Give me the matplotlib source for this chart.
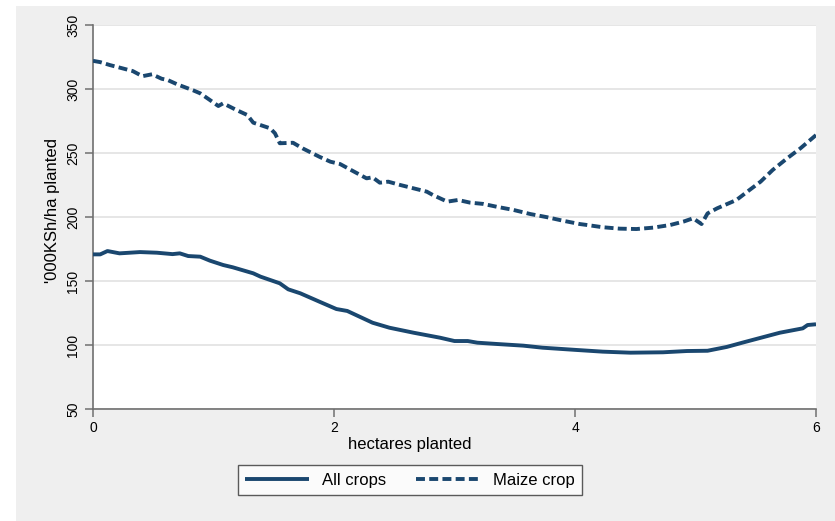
import matplotlib
matplotlib.use('Agg')
from matplotlib import pyplot as plt
from matplotlib.patches import Rectangle

plt.rcParams['font.family'] = ['Liberation Sans', 'DejaVu Sans']

# 数据: 总作物
all_x = [0.0, 0.06, 0.12, 0.22, 0.39, 0.53, 0.66, 0.72, 0.79, 0.89, 0.97, 1.08, 1.16,
         1.33, 1.39, 1.55, 1.62, 1.72, 1.88, 2.02, 2.11, 2.32, 2.46, 2.66, 2.88, 3.0,
         3.11, 3.19, 3.35, 3.57, 3.73, 4.0, 4.23, 4.46, 4.73, 4.93, 5.1, 5.26, 5.4,
         5.7, 5.89, 5.93, 6.0]
all_y = [170.8, 170.8, 173.4, 171.6, 172.6, 172.1, 171.0, 171.6, 169.5, 169.0, 165.9,
         162.5, 160.7, 156.0, 153.4, 148.2, 143.5, 140.4, 133.8, 128.1, 126.6, 117.4,
         113.5, 109.6, 105.7, 103.1, 103.1, 101.8, 100.8, 99.5, 97.9, 96.2, 94.8, 94.0,
         94.3, 95.3, 95.5, 98.5, 102.1, 109.6, 113.0, 115.6, 116.2]

# 数据: 玉米
maize_x = [0.0, 0.06, 0.14, 0.25, 0.33, 0.41, 0.49, 0.57, 0.62, 0.70, 0.83, 0.89, 0.97,
           1.04, 1.08, 1.19, 1.28, 1.33, 1.47, 1.51, 1.55, 1.66, 1.74, 1.88, 1.97, 2.05,
           2.13, 2.27, 2.32, 2.38, 2.45, 2.55, 2.66, 2.77, 2.82, 2.94, 3.03, 3.13, 3.24,
           3.35, 3.49, 3.63, 3.77, 3.90, 4.04, 4.10, 4.23, 4.37, 4.51, 4.65, 4.79, 4.90,
           4.98, 5.05, 5.10, 5.18, 5.34, 5.43, 5.54, 5.64, 5.76, 5.87, 6.0]
maize_y = [322.0, 321.0, 318.7, 316.0, 314.0, 310.0, 311.5, 308.0, 307.0, 303.6, 299.0,
           296.6, 291.4, 286.7, 288.8, 283.6, 279.7, 273.7, 269.3, 265.4, 257.6, 258.0,
           253.6, 247.0, 243.2, 241.4, 237.3, 230.2, 231.0, 226.8, 227.6, 225.0, 222.4,
           219.8, 217.2, 212.0, 213.3, 211.2, 210.2, 208.0, 205.5, 202.3, 199.8, 197.1,
           194.5, 193.75, 192.0, 190.9, 190.6, 191.7, 193.75, 196.4, 199.0, 194.5, 202.8,
           206.8, 213.3, 219.8, 227.6, 236.7, 245.8, 253.6, 264.0]

xticks = [0, 2, 4, 6]
yticks = [50, 100, 150, 200, 250, 300, 350]
labels = ['All crops', 'Maize crop']

navy = '#1a476f'
bg = '#efefef'

fig = plt.figure(figsize=(8.35, 5.21), dpi=100, facecolor='white')
# 灰色背景
fig.patches.append(Rectangle((16/835, 0), 1 - 16/835, 1 - 6/521, transform=fig.transFigure,
                             facecolor=bg, edgecolor='none', zorder=-10))

ax = fig.add_axes([93/835, 1 - 409/521, (816 - 93)/835, (409 - 25)/521])
ax.set_facecolor('white')

l1, = ax.plot(all_x, all_y, color=navy, lw=2.8, solid_capstyle='butt', zorder=3)
l2, = ax.plot(maize_x, maize_y, color=navy, lw=2.8, dashes=(2.3, 1.1), zorder=3)

ax.set_xlim(0, 6)
ax.set_ylim(50, 350)
ax.set_xticks(xticks)
ax.set_yticks(yticks)
ax.set_xticklabels([str(t) for t in xticks], fontsize=10)
ax.set_yticklabels([str(t) for t in yticks], fontsize=10, rotation=90, va='center')
ax.grid(axis='y', color='#e6e6e6', lw=1.4, zorder=0)
ax.set_axisbelow(True)

for s in ['top', 'right']:
    ax.spines[s].set_visible(False)
for s in ['left', 'bottom']:
    ax.spines[s].set_color('#707070')
    ax.spines[s].set_linewidth(1.2)
ax.tick_params(axis='both', colors='#707070', labelcolor='black', length=6, width=1.1, pad=3)

ax.set_ylabel("'000KSh/ha planted", fontsize=12)
ax.yaxis.set_label_coords(-0.0456, 0.518)
ax.set_xlabel('hectares planted', fontsize=12)
ax.xaxis.set_label_coords((410 - 93)/723, -0.072)

leg = fig.legend([l1, l2], labels, loc='center', bbox_to_anchor=(410/835, 1 - 480/521),
                 ncol=2, fontsize=12, frameon=True, fancybox=False, handlelength=3.8,
                 columnspacing=1.8, borderpad=0.45, handletextpad=0.8)
leg.get_frame().set_edgecolor('#333333')
leg.get_frame().set_linewidth(1.0)

fig.savefig('out.png', dpi=100, facecolor=fig.get_facecolor())
